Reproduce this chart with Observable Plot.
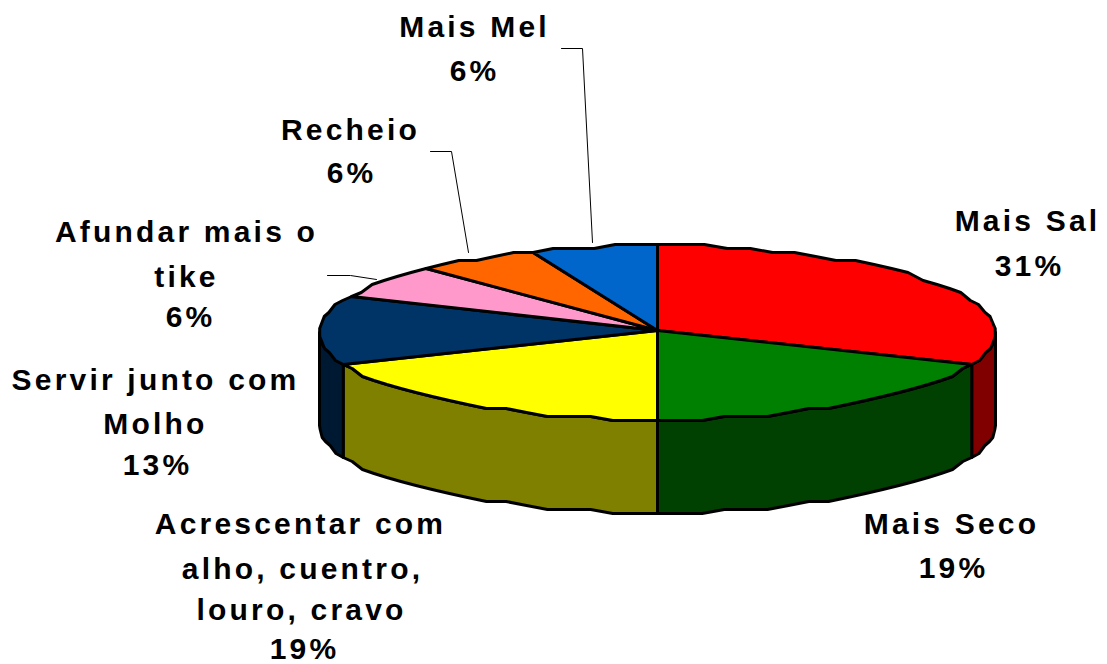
<!DOCTYPE html>
<html>
<head>
<meta charset="utf-8">
<script src="https://cdn.jsdelivr.net/npm/d3@7"></script>
<script src="https://cdn.jsdelivr.net/npm/@observablehq/plot@0.6"></script>
<style>html,body{margin:0;padding:0;background:#fff;overflow:hidden}</style>
</head>
<body>
<div id="chart"></div>
<script>
const categories = ["Mais Sal","Mais Seco","Acrescentar com alho, cuentro, louro, cravo","Servir junto com Molho","Afundar mais o tike","Recheio","Mais Mel"];
const values = [31,19,19,13,6,6,6];
const topColors = ["#ff0000","#008000","#ffff00","#003366","#ff99cc","#ff6600","#0066cc"];
const sideColors = ["#800000","#004000","#808000","#001933","#802040","#803300","#003366"];
const labelLines = [
  ["Mais Sal","31%"],["Mais Seco","19%"],["Acrescentar com","alho, cuentro,","louro, cravo","19%"],
  ["Servir junto com","Molho","13%"],["Afundar mais o","tike","6%"],["Recheio","6%"],["Mais Mel","6%"]
];
const labelX = [[1027,1029],[951,953],[300,302,301,304],[155,155,157],[186,186,190],[350,351],[474,474]];
const labelY = [[230,275],[533,577],[533,578,619,658],[389,433,474],[241,286,326],[139,182],[36,80]];
const leaders = [
  {slice:4,xs:[327,350,376],ys:[275,275,279]},
  {slice:5,xs:[430,451,468],ys:[151,151,252]},
  {slice:6,xs:[561,582,592],ys:[48,48,242]}
];
const W=1107,H=664,cx=657,apexY=330,rimY=332,rx=338,ry=87,depth=93,grid=4;

const rad=d=>d*Math.PI/180;
const rim=(deg,dy=0)=>({x:cx+rx*Math.sin(rad(deg)),y:Math.round((rimY-ry*Math.cos(rad(deg)))/grid)*grid+dy});
const arc=(a,b,dy=0)=>{const n=Math.max(1,Math.ceil(Math.abs(b-a)/4));return d3.range(n+1).map(i=>rim(a+(b-a)*i/n,dy));};

let acc=0;
const spans=values.map(v=>{const a=acc/100*360;acc+=v;return [a,acc/100*360];});

const tops=[],walls=[];
spans.forEach(([a,b],i)=>{
  [{x:cx,y:apexY},...arc(a,b),{x:cx,y:apexY}].forEach(p=>tops.push({...p,k:categories[i]}));
  const s=Math.max(a,90),e=Math.min(b,270);
  if(s<e){
    const up=arc(s,e),down=arc(e,s,depth);
    [...up,...down,up[0]].forEach(p=>walls.push({...p,k:categories[i]}));
  }
});
const leaderPts=leaders.flatMap(l=>l.xs.map((x,i)=>({x,y:l.ys[i],k:l.slice})));
const texts=labelLines.flatMap((ls,i)=>ls.map((t,j)=>({t,x:labelX[i][j],y:labelY[i][j]})));

const plot=Plot.plot({
  width:W,height:H,margin:0,
  x:{domain:[0,W],range:[0,W],axis:null},
  y:{domain:[0,H],range:[0,H],axis:null},
  style:{background:"#fff"},
  marks:[
    Plot.line(walls,{x:"x",y:"y",z:"k",fill:d=>sideColors[categories.indexOf(d.k)],stroke:"#000",strokeWidth:3,strokeLinejoin:"round",curve:"linear"}),
    Plot.line(tops,{x:"x",y:"y",z:"k",fill:d=>topColors[categories.indexOf(d.k)],stroke:"#000",strokeWidth:3,strokeLinejoin:"round",curve:"linear"}),
    Plot.line(leaderPts,{x:"x",y:"y",z:"k",stroke:"#000",strokeWidth:1,curve:"linear"}),
    Plot.text(texts,{x:"x",y:"y",text:"t",lineAnchor:"bottom",textAnchor:"middle",fontFamily:"Liberation Sans",fontWeight:"bold",fontSize:30,fill:"#000"})
  ]
});
d3.select(plot).selectAll("text").style("letter-spacing","3.2px");
document.getElementById("chart").appendChild(plot);
</script>
</body>
</html>
